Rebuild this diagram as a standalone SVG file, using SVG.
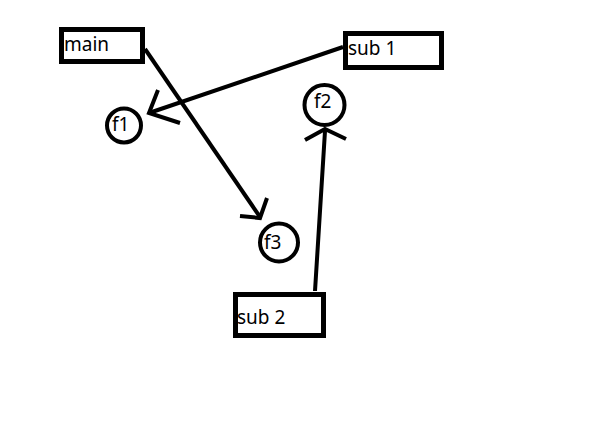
<svg xmlns="http://www.w3.org/2000/svg" width="590" height="422" viewBox="0 0 590 422">
<style>
.box{fill:#fff;stroke:#000;stroke-width:5}
.circ{fill:#fff;stroke:#000;stroke-width:4}
.lbl{font-family:"Noto Sans","Open Sans",sans-serif;font-size:19px;fill:#000}
.edge{fill:none;stroke:#000;stroke-width:4;stroke-linecap:butt;stroke-linejoin:miter}
</style>
<rect width="590" height="422" fill="#fff"/>
<g id="connectors">
<path class="edge" d="M145,49 L260,217"/>
<path class="edge" d="M240,216 L260,218 L267,198"/>
<path class="edge" d="M343,47 L149,113"/>
<path class="edge" d="M158,90 L149,113 L180,123"/>
<path class="edge" d="M315,291 L325,131"/>
<path class="edge" d="M305,140 L325,129 L346,139"/>
</g>
<g id="main">
<rect class="box" x="61.5" y="29.5" width="81" height="32"/>
<text class="lbl" x="64" y="51">main</text>
</g>
<g id="sub1">
<rect class="box" x="345.5" y="33.5" width="96" height="34"/>
<text class="lbl" x="348" y="55">sub 1</text>
</g>
<g id="f1">
<circle class="circ" cx="124" cy="125.5" r="17"/>
<text class="lbl" x="112" y="131">f1</text>
</g>
<g id="f2">
<circle class="circ" cx="324.5" cy="105" r="20"/>
<text class="lbl" x="314" y="108">f2</text>
</g>
<g id="f3">
<circle class="circ" cx="279" cy="242.5" r="19"/>
<text class="lbl" x="264" y="249">f3</text>
</g>
<g id="sub2">
<rect class="box" x="235.5" y="294.5" width="88" height="41"/>
<text class="lbl" x="237" y="324">sub 2</text>
</g>
</svg>
